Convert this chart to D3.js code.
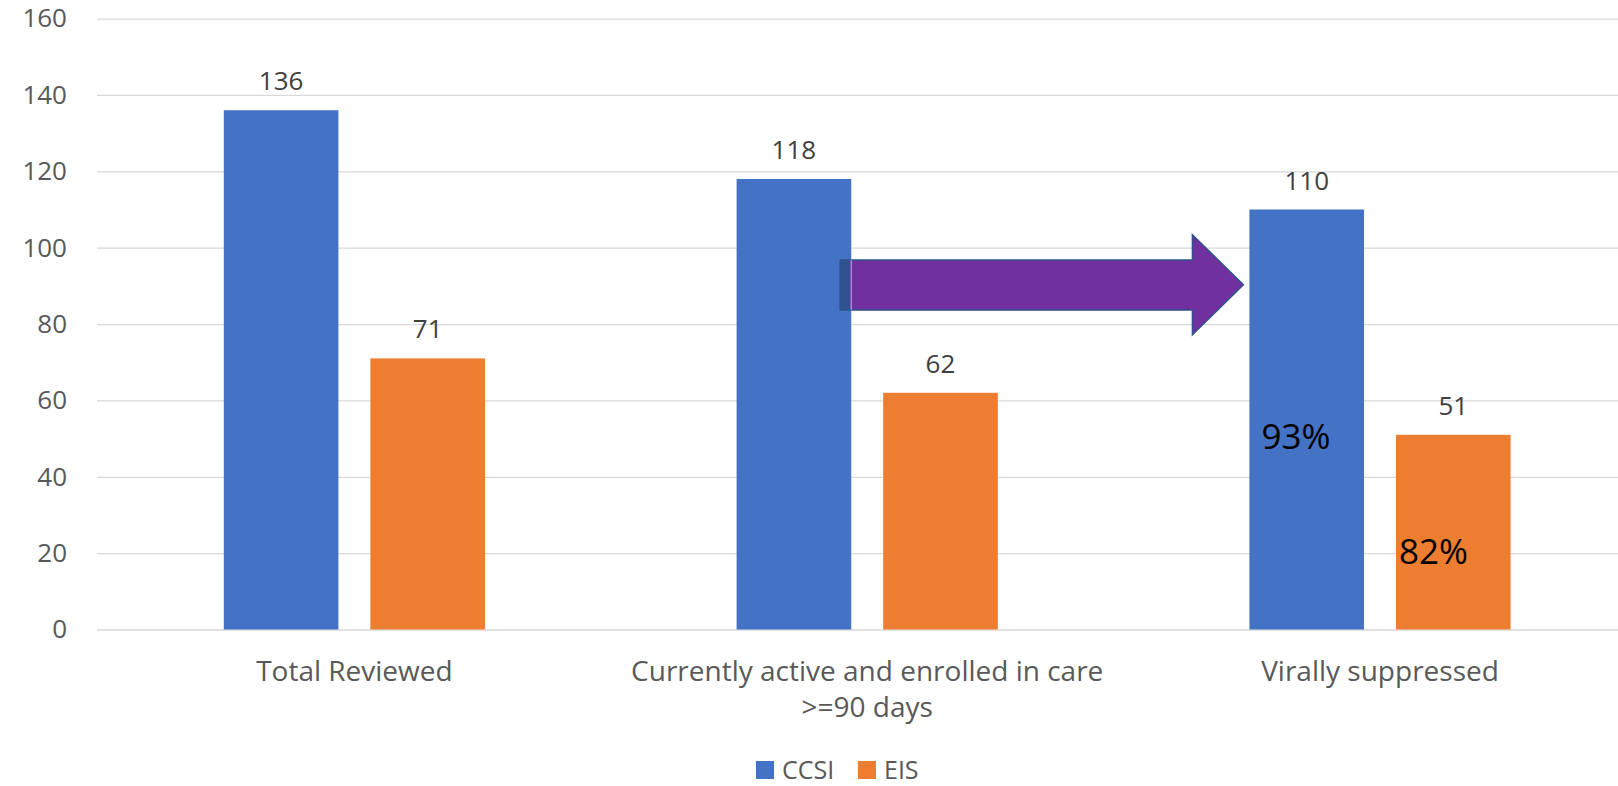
<!DOCTYPE html>
<html>
<head>
  <title>Review chart</title>
  <script src="https://d3js.org/d3.v7.min.js"></script>
  <style>
    body { margin: 0; background: #fff; }
    text { font-family: "Open Sans", Lato, sans-serif; }
  </style>
</head>
<body>
  <svg id="chart"></svg>

  <script>
    // data
    var categories = ["Total Reviewed", "Currently active and enrolled in care\n>=90 days", "Virally suppressed"];
    var series = ["CCSI", "EIS"];
    var ccsiValues = [136, 118, 110];
    var eisValues = [71, 62, 51];
    var yTicks = [0, 20, 40, 60, 80, 100, 120, 140, 160];
    var pctLabels = ["93%", "82%"];

    var colori = { CCSI: "#4472C4", EIS: "#ED7D31" };

    var width = 1618, height = 786;
    var left = 98, bandW = 512.8;

    var svg = d3.select("#chart")
      .attr("width", width)
      .attr("height", height);

    var y = d3.scaleLinear().domain([0, 160]).range([629.5, 18.6]);

    var x0 = d3.scaleBand()
      .domain(categories)
      .range([left, left + bandW * categories.length]);

    // two bars inside each category, small gap between them
    var x1 = d3.scaleBand()
      .domain(series)
      .range([125.8, 125.8 + 261.2])
      .paddingInner(0.218);

    // gridlines + y labels
    var yAxis = d3.axisLeft(y)
      .tickValues(yTicks)
      .tickSize(-(width - 97))
      .tickPadding(30);
    var gy = svg.append("g")
      .attr("transform", "translate(97,0)")
      .call(yAxis);
    gy.select(".domain").remove();
    gy.selectAll(".tick line").attr("stroke", "#D9D9D9").attr("stroke-width", 1.3);
    gy.selectAll(".tick text")
      .attr("fill", "#595959")
      .style("font-size", "26px");

    var rows = categories.map(function(c, i) {
      return { cat: c, vals: [ { s: "CCSI", v: ccsiValues[i] }, { s: "EIS", v: eisValues[i] } ] };
    });

    var groups = svg.selectAll(".grp")
      .data(rows)
      .enter()
      .append("g")
      .attr("class", "grp")
      .attr("transform", function(d) { return "translate(" + x0(d.cat) + ",0)"; });

    groups.selectAll("rect")
      .data(function(d) { return d.vals; })
      .enter()
      .append("rect")
      .attr("x", function(d) { return x1(d.s); })
      .attr("y", function(d) { return y(d.v); })
      .attr("width", x1.bandwidth())
      .attr("height", function(d) { return y(0) - y(d.v); })
      .attr("fill", function(d) { return colori[d.s]; });

    // value labels
    groups.selectAll(".val")
      .data(function(d) { return d.vals; })
      .enter()
      .append("text")
      .attr("class", "val")
      .attr("x", function(d) { return x1(d.s) + x1.bandwidth() / 2; })
      .attr("y", function(d) { return y(d.v) - 20; })
      .attr("text-anchor", "middle")
      .attr("fill", "#404040")
      .style("font-size", "26px")
      .text(function(d) { return d.v; });

    // category labels
    var xAxis = d3.axisBottom(x0).tickSize(0).tickPadding(0).tickFormat("");
    var gx = svg.append("g")
      .attr("transform", "translate(0," + y(0) + ")")
      .call(xAxis);
    gx.select(".domain").remove();
    gx.selectAll(".tick").each(function(d) {
      var lines = d.split("\n");
      var t = d3.select(this).select("text")
        .attr("y", 0)
        .attr("dy", null)
        .attr("fill", "#595959")
        .style("font-size", "28px");
      lines.forEach(function(l, i) {
        t.append("tspan")
          .attr("x", 0)
          .attr("y", 51 + i * 36)
          .text(l);
      });
    });

    // arrow from the 2nd CCSI bar to the 3rd
    var c2 = x0(categories[1]) + x1("CCSI");
    var c3 = x0(categories[2]) + x1("CCSI");
    var ax0 = c2 + x1.bandwidth() - 11;
    var axH = c3 - 57;
    var axT = c3 - 6;
    var arrowPath = d3.path();
    arrowPath.moveTo(ax0, y(96.8));
    arrowPath.lineTo(axH, y(96.8));
    arrowPath.lineTo(axH, y(103.4));
    arrowPath.lineTo(axT, y(90.3));
    arrowPath.lineTo(axH, y(77.2));
    arrowPath.lineTo(axH, y(83.7));
    arrowPath.lineTo(ax0, y(83.7));
    arrowPath.closePath();
    svg.append("path")
      .attr("d", arrowPath.toString())
      .attr("fill", "#7030A0")
      .attr("stroke", "#2F528F")
      .attr("stroke-width", 1.5);
    // the little dark bit at the arrow tail
    svg.append("rect")
      .attr("x", ax0)
      .attr("y", y(96.8))
      .attr("width", 9)
      .attr("height", y(83.7) - y(96.8))
      .attr("fill", "#2F528F");
    svg.append("line")
      .attr("x1", ax0 + 11).attr("x2", ax0 + 11)
      .attr("y1", y(96.8)).attr("y2", y(83.7))
      .attr("stroke", "#9DC3E6").attr("stroke-width", 1);

    // percent notes on the last group
    var g3 = x0(categories[2]);
    svg.append("text")
      .attr("x", g3 + x1("CCSI") + 12)
      .attr("y", y(47.2))
      .attr("fill", "#000")
      .style("font-size", "35px")
      .text(pctLabels[0]);
    svg.append("text")
      .attr("x", g3 + x1("EIS") + 3)
      .attr("y", y(17.1))
      .attr("fill", "#000")
      .style("font-size", "35px")
      .text(pctLabels[1]);

    // legend
    var legend = svg.append("g").attr("transform", "translate(756,761)");
    var lx = [0, 102];
    series.forEach(function(s, i) {
      legend.append("rect")
        .attr("x", lx[i]).attr("y", 0)
        .attr("width", 18).attr("height", 18)
        .attr("fill", colori[s]);
      legend.append("text")
        .attr("x", lx[i] + 26).attr("y", 18)
        .attr("fill", "#595959")
        .style("font-size", "25px")
        .text(s);
    });
  </script>
</body>
</html>
